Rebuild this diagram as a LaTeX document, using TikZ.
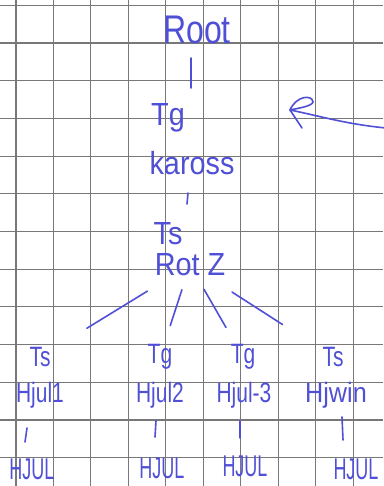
\documentclass[tikz,border=0pt]{standalone}
\usepackage{fontspec}
\setmainfont{Liberation Sans}
\usetikzlibrary{calc}
\definecolor{ink}{RGB}{80,80,215}
\definecolor{gridc}{RGB}{120,120,120}
\begin{document}
\begin{tikzpicture}[x=1pt,y=-1pt,
  lbl/.style={text=ink,inner sep=0pt},
  big/.style={lbl,font=\fontsize{40}{40}\selectfont,xscale=0.8},
  mid/.style={lbl,font=\fontsize{32}{32}\selectfont,xscale=0.9},
  sml/.style={lbl,font=\fontsize{28}{28}\selectfont,xscale=0.75},
  leafb/.style={lbl,font=\fontsize{30}{30}\selectfont,xscale=0.6},
  bar/.style={draw=ink,line width=1.6pt,line cap=round},
  gridline/.style={draw=gridc,line width=1.1pt}]
\useasboundingbox (0,0) rectangle (383,486);
\fill[white] (0,0) rectangle (383,486);
% grid
\foreach \i in {0,...,9} {\draw[gridline] ({16+37.45*\i},0) -- ({16+37.45*\i},486);}
\foreach \j in {0,...,12} {\draw[gridline] (0,{5.3+37.7*\j}) -- (383,{5.3+37.7*\j});}
% nodes
\node[big] (root) at (197,30) {Root};
\node[mid] (tg) at (168,118) {Tg};
\node[mid] (kar) at (192,163) {kaross};
\node[mid] (ts) at (168,234) {Ts};
\node[mid] (rotz) at (190,265) {Rot Z};
\node[sml] (t1) at (40,357) {Ts};
\node[sml] (t2) at (160,357) {Tg};
\node[sml] (t3) at (243,357) {Tg};
\node[sml] (t4) at (333,357) {Ts};
\node[sml] (h1) at (40,395) {Hjul1};
\node[sml] (h2) at (160,395) {Hjul2};
\node[sml] (h3) at (244,395) {Hjul-3};
\node[sml,xscale=1.2] (h4) at (336,395) {Hjwin};
\node[leafb] (j1) at (32,469) {HJUL};
\node[leafb] (j2) at (162,468) {HJUL};
\node[leafb] (j3) at (245,466) {HJUL};
\node[leafb] (j4) at (356,469) {HJUL};
% connectors
\draw[bar] ($(root.center)+(-6,28)$) -- ($(root.center)+(-6,58)$);
\draw[bar] ($(kar.center)+(-4,30)$) -- ($(kar.center)+(-5,41)$);
\draw[bar,shorten <=50pt,shorten >=55pt] (rotz.center) -- (t1.center);
\draw[bar,shorten <=26pt,shorten >=33pt] (rotz.center) -- (t2.center);
\draw[bar,shorten <=28pt,shorten >=34pt] (rotz.center) -- (t3.center);
\draw[bar,shorten <=50pt,shorten >=60pt] (rotz.center) -- (t4.center);
\draw[bar] ($(h1.center)+(-13,33)$) -- ($(h1.center)+(-15,47)$);
\draw[bar] ($(h2.center)+(-4,26)$) -- ($(h2.center)+(-5,42)$);
\draw[bar] ($(h3.center)+(-4,26)$) -- ($(h3.center)+(-4,43)$);
\draw[bar] ($(h4.center)+(6,22)$) -- ($(h4.center)+(7,45)$);
% arrow with loop
\coordinate (atail) at (386,128);
\coordinate (atip) at (290,110);
\draw[bar] (atail) .. controls (345,124) and (320,116) .. (atip);
\draw[bar] (atip) -- (302,128);
\draw[bar] (atip) .. controls (296,96) and (312,94) .. (313,102) .. controls (312,106) and (300,108) .. (atip);
\end{tikzpicture}
\end{document}
